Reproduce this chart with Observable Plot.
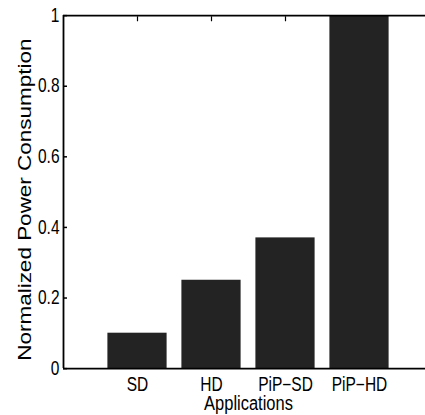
<!DOCTYPE html>
<html><head><meta charset="utf-8">
<script src="https://cdn.jsdelivr.net/npm/d3@7"></script>
<script src="https://cdn.jsdelivr.net/npm/@observablehq/plot@0.6"></script>
<style>html,body{margin:0;padding:0;background:#fff;overflow:hidden} #chart svg{display:block}</style>
</head><body><div id="chart"></div>
<script>
const categories = ["SD", "HD", "PiP−SD", "PiP−HD"];
const values = [0.1, 0.25, 0.37, 1.0];
const yTicks = [0, 0.2, 0.4, 0.6, 0.8, 1];
const yTickLabels = ["0", "0.2", "0.4", "0.6", "0.8", "1"];
const xLabel = "Applications";
const yLabel = "Normalized Power Consumption";

const data = categories.map((c, i) => ({category: c, pos: i + 1, value: values[i]}));
const xTicks = data.map(d => d.pos);
const stretch = 1.25;
const W = 425, H = 415, h = H / stretch;
const font = "'Liberation Sans', Arial, Helvetica, sans-serif";

const svg = Plot.plot({
  width: W, height: h,
  marginLeft: 63, marginRight: -8, marginTop: 12, marginBottom: h - 294.4,
  style: {fontFamily: font, background: "white", color: "black"},
  x: {domain: [0, categories.length + 1], axis: null},
  y: {domain: [0, 1], axis: null},
  marks: [
    Plot.axisY({ticks: yTicks, tickSize: -4, tickFormat: () => "", label: null, strokeWidth: 1.2}),
    Plot.axisX({anchor: "top", ticks: xTicks, tickSize: -4, tickFormat: () => "", label: null, strokeWidth: 1.2}),
    Plot.axisX({anchor: "bottom", ticks: xTicks, tickSize: -4, tickFormat: () => "", label: null, strokeWidth: 1.2}),
    Plot.rectY(data, {x1: d => d.pos - 0.4, x2: d => d.pos + 0.4, y: "value", fill: "#232323"}),
    Plot.ruleX([0, categories.length + 1], {stroke: "black", strokeWidth: 1.8}),
    Plot.ruleY([0, 1], {stroke: "black", strokeWidth: 1.5}),
    Plot.axisY({ticks: yTicks, tickSize: 0, tickPadding: 4, tickFormat: d => yTickLabels[yTicks.indexOf(d)], fontSize: 15.5, label: null}),
    Plot.axisX({ticks: xTicks, tickSize: 0, tickPadding: 6.5, tickFormat: d => categories[d - 1], fontSize: 15.5, label: null}),
    Plot.text([xLabel], {frameAnchor: "bottom", textAnchor: "middle", lineAnchor: "middle", dy: 28, fontSize: 16.5, fill: "black"}),
    Plot.text([yLabel], {frameAnchor: "left", textAnchor: "middle", lineAnchor: "middle", rotate: -90, dx: -38, dy: 6, fontSize: 18, fill: "black"})
  ]
});
svg.setAttribute("preserveAspectRatio", "none");
svg.setAttribute("height", H);
svg.style.width = W + "px";
svg.style.height = H + "px";
svg.style.maxWidth = "none";
document.getElementById("chart").appendChild(svg);
</script>
</body></html>
